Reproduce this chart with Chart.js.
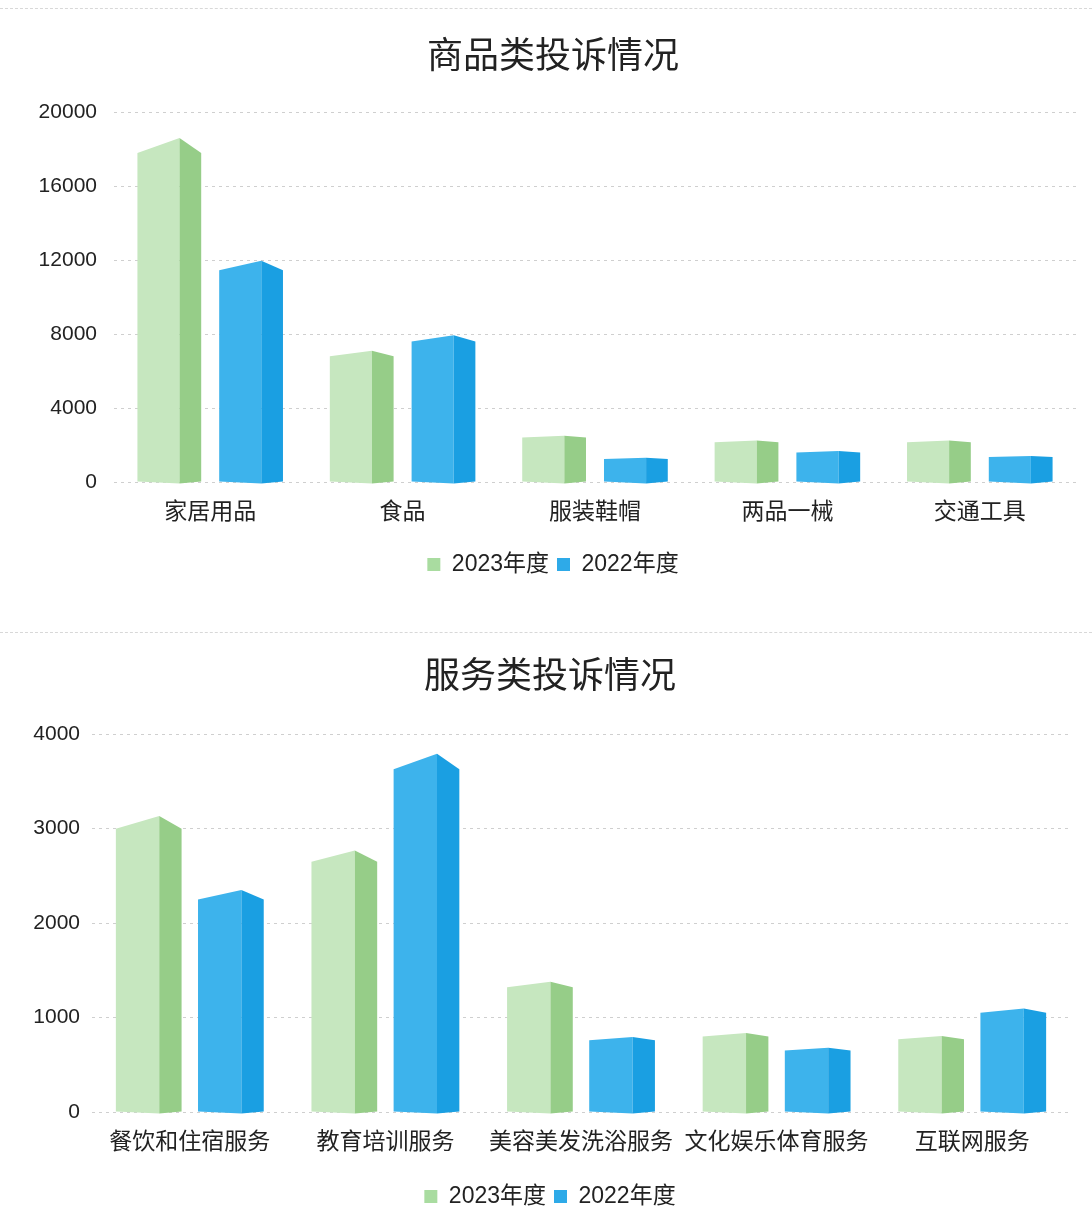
<!DOCTYPE html>
<html>
<head>
<meta charset="utf-8">
<script src="https://cdn.jsdelivr.net/npm/chart.js@4.4.1/dist/chart.umd.min.js"></script>
<style>
  html, body { margin: 0; padding: 0; background: #fff; }
  body { width: 1092px; height: 1230px; position: relative; overflow: hidden; }
  .panel { position: absolute; left: 0; width: 1092px; height: 610px; }
  #p1 { top: 0; }
  #p2 { top: 620px; }
  .rule { position: absolute; left: 0; width: 1092px; border-top: 1px dashed #d8d8d8; }
</style>
</head>
<body>
<div class="rule" style="top:8px"></div>
<div class="panel" id="p1"><canvas id="goodsChart"></canvas></div>
<div class="rule" style="top:632px"></div>
<div class="panel" id="p2"><canvas id="serviceChart"></canvas></div>

<script>
// 商品类
const goodsLabels = ['家居用品', '食品', '服装鞋帽', '两品一械', '交通工具'];
const goods2023 = [17800, 6800, 2400, 2150, 2150];
const goods2022 = [11450, 7600, 1250, 1600, 1350];
const goodsTicks = [0, 4000, 8000, 12000, 16000, 20000];

// 服务类
const serviceLabels = ['餐饮和住宿服务', '教育培训服务', '美容美发洗浴服务', '文化娱乐体育服务', '互联网服务'];
const service2023 = [3000, 2650, 1320, 800, 770];
const service2022 = [2250, 3630, 760, 650, 1050];
const serviceTicks = [0, 1000, 2000, 3000, 4000];

const seriesNames = ['2023年度', '2022年度'];

const FONT = "'Liberation Sans', 'Noto Sans CJK SC', sans-serif";
const GREEN = { legend: '#a9dca0', front: '#c6e7bf', side: '#96cd88' };
const BLUE = { legend: '#2eaae8', front: '#3db3ec', side: '#1a9fe2' };

// draws each bar as a prism: light front face, darker side face, small roof
const bar3d = {
    id: 'bar3d',
    beforeDatasetsDraw(chart) {
        const ctx = chart.ctx;
        ctx.save();
        chart.data.datasets.forEach((ds, i) => {
            const meta = chart.getDatasetMeta(i);
            if (meta.hidden) return;
            meta.data.forEach(bar => {
                const p = bar.getProps(['x', 'y', 'base', 'width'], true);
                const left = p.x - p.width / 2;
                const right = p.x + p.width / 2;
                const mid = left + p.width * 0.66;
                const roof = (p.base - p.y) * 0.045;
                const dip = 2;

                ctx.beginPath();
                ctx.moveTo(left, p.y);
                ctx.lineTo(mid, p.y - roof);
                ctx.lineTo(mid, p.base + dip);
                ctx.lineTo(left, p.base);
                ctx.closePath();
                ctx.fillStyle = ds.pal.front;
                ctx.fill();

                ctx.beginPath();
                ctx.moveTo(mid, p.y - roof);
                ctx.lineTo(right, p.y);
                ctx.lineTo(right, p.base);
                ctx.lineTo(mid, p.base + dip);
                ctx.closePath();
                ctx.fillStyle = ds.pal.side;
                ctx.fill();
            });
        });
        ctx.restore();
        return false;
    }
};

function buildChart(id, title, labels, a, b, ticks, lay) {
    const ctx = document.getElementById(id).getContext('2d');
    return new Chart(ctx, {
        type: 'bar',
        data: {
            labels: labels,
            datasets: [
                { label: seriesNames[0], data: a, pal: GREEN, backgroundColor: GREEN.legend, borderWidth: 0 },
                { label: seriesNames[1], data: b, pal: BLUE, backgroundColor: BLUE.legend, borderWidth: 0 }
            ]
        },
        options: {
            responsive: true,
            maintainAspectRatio: false,
            animation: false,
            categoryPercentage: lay.cat,
            barPercentage: lay.bar,
            layout: { padding: { left: 30, right: lay.right, top: 0, bottom: lay.bottom } },
            plugins: {
                title: {
                    display: true,
                    text: title,
                    color: '#222',
                    font: { family: FONT, size: 36, weight: 'normal' },
                    padding: { top: 36, bottom: lay.titleGap }
                },
                legend: {
                    position: 'bottom',
                    labels: {
                        boxWidth: 13,
                        boxHeight: 13,
                        padding: 8,
                        color: '#222',
                        font: { family: FONT, size: 23 }
                    }
                },
                tooltip: { enabled: false }
            },
            scales: {
                x: {
                    grid: { display: false },
                    border: { display: false },
                    ticks: { color: '#222', padding: 9, maxRotation: 0, autoSkip: false, font: { family: FONT, size: 23 } },
                    afterFit: s => { s.height = lay.xh; }
                },
                y: {
                    min: ticks[0],
                    max: ticks[ticks.length - 1],
                    afterBuildTicks: s => { s.ticks = ticks.map(v => ({ value: v })); },
                    grid: { color: '#cfcfcf', drawTicks: false },
                    border: { display: false, dash: [3, 4] },
                    ticks: {
                        color: '#222',
                        padding: lay.tickPad,
                        font: { family: FONT, size: 21 },
                        callback: v => String(v)
                    },
                    afterFit: s => { s.width = lay.yw; }
                }
            }
        },
        plugins: [bar3d]
    });
}

buildChart('goodsChart', '商品类投诉情况', goodsLabels, goods2023, goods2022, goodsTicks,
    { cat: 0.85, bar: 0.78, right: 16, bottom: 24, titleGap: 33, xh: 63, yw: 84, tickPad: 17 });
buildChart('serviceChart', '服务类投诉情况', serviceLabels, service2023, service2022, serviceTicks,
    { cat: 0.84, bar: 0.8, right: 22, bottom: 12, titleGap: 35, xh: 65, yw: 62, tickPad: 12 });
</script>
</body>
</html>
